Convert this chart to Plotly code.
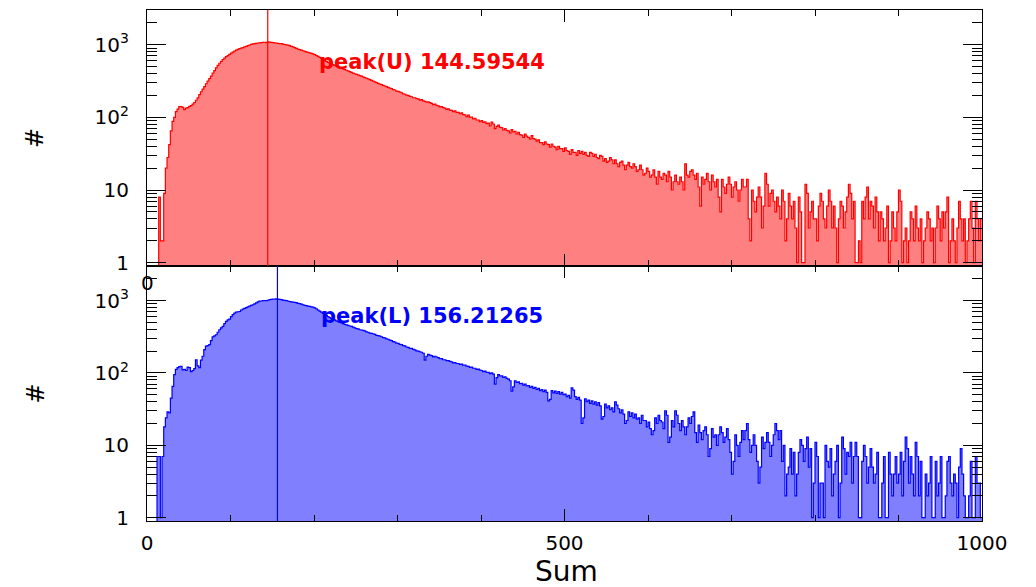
import numpy as np
import plotly.graph_objects as go

# ---------------- data ----------------
BIN_WIDTH = 2          # each value below covers 2 units of "Sum"
X_MIN, X_MAX = 0, 1000

# upper histogram (U): counts per bin, bins start at 0, 2, 4, ... (20 bins per row = 40 units)
U_COUNTS = [
    0, 0, 0, 0, 0, 0, 0, 8, 2, 2, 9, 20, 28, 42, 65, 88, 100, 120, 130, 140,
    141, 137, 128, 134, 136, 142, 145, 152, 160, 172, 185, 205, 225, 245, 265, 290, 315, 340, 370, 405,
    440, 480, 520, 555, 590, 625, 655, 685, 705, 735, 765, 790, 815, 840, 860, 880, 895, 910, 930, 950,
    970, 990, 1010, 1025, 1035, 1045, 1055, 1060, 1065, 1075, 1080, 1070, 1090, 1085, 1075, 1065, 1060, 1055, 1045, 1035,
    1035, 1020, 1005, 995, 985, 970, 950, 930, 910, 890, 870, 855, 840, 825, 810, 795, 785, 770, 760, 745,
    730, 710, 690, 670, 650, 630, 610, 590, 572, 558, 545, 532, 520, 508, 495, 485, 475, 463, 455, 445,
    435, 425, 415, 405, 398, 390, 384, 375, 368, 360, 352, 345, 338, 330, 322, 316, 308, 300, 294, 286,
    282, 276, 270, 264, 258, 252, 248, 240, 238, 230, 228, 222, 218, 210, 208, 202, 200, 194, 192, 186,
    186, 181, 179, 173, 175, 169, 166, 162, 163, 159, 156, 150, 152, 146, 144, 139, 140, 136, 134, 129,
    131, 126, 125, 120, 123, 117, 117, 112, 115, 109, 108, 102, 107, 101, 101, 95, 97, 92, 92, 87,
    90, 85, 87, 82, 83, 76, 86, 81, 70, 75, 78, 73, 72, 67, 70, 66, 65, 61, 68, 63,
    64, 59, 62, 58, 57, 53, 59, 55, 53, 50, 56, 51, 50, 47, 49, 45, 45, 42, 46, 43,
    42, 39, 43, 40, 39, 36, 40, 37, 37, 34, 38, 35, 34, 31, 36, 33, 33, 30, 35, 32,
    34, 31, 33, 30, 29, 33, 32, 29, 31, 28, 27, 30, 29, 25, 27, 24, 25, 28, 26, 23,
    26, 23, 21, 24, 25, 22, 19, 22, 24, 21, 20, 23, 21, 18, 19, 22, 19, 16, 17, 20,
    18, 15, 16, 19, 15, 12, 18, 15, 14, 17, 16, 13, 18, 15, 10, 13, 16, 13, 12, 15,
    13, 10, 23, 16, 15, 18, 19, 16, 14, 17, 11, 6, 15, 12, 14, 17, 13, 10, 16, 13,
    11, 14, 8, 5, 14, 11, 9, 12, 15, 12, 8, 11, 13, 10, 7, 10, 14, 11, 11, 14,
    4, 2, 10, 7, 5, 8, 11, 8, 3, 6, 17, 12, 6, 9, 10, 7, 5, 8, 6, 4,
    10, 7, 2, 4, 9, 6, 4, 7, 3, 1, 8, 5, 1, 1, 12, 9, 3, 5, 7, 4,
    4, 2, 6, 9, 7, 4, 3, 6, 10, 7, 3, 6, 3, 1, 4, 7, 6, 3, 5, 8,
    12, 9, 4, 7, 1, 1, 2, 1, 7, 4, 8, 11, 4, 7, 6, 3, 8, 5, 2, 5,
    4, 2, 3, 6, 1, 2, 5, 3, 2, 5, 10, 7, 1, 2, 3, 1, 2, 5, 4, 2,
    6, 3, 2, 4, 1, 2, 3, 5, 4, 2, 3, 1, 3, 6, 4, 2, 5, 3, 5, 8,
    1, 2, 4, 2, 1, 3, 7, 4, 2, 4, 1, 2, 4, 7, 3, 1, 7, 4, 2, 4,
]

# lower histogram (L)
L_COUNTS = [
    0, 0, 0, 0, 0, 0, 7, 7, 1, 7, 18, 24, 29, 28, 45, 65, 95, 112, 118, 122,
    123, 110, 112, 108, 120, 118, 104, 108, 115, 152, 125, 118, 150, 170, 210, 234, 238, 246, 280, 314,
    325, 337, 365, 395, 420, 440, 480, 515, 540, 555, 600, 637, 670, 690, 700, 706, 740, 760, 780, 800,
    815, 835, 860, 875, 900, 930, 960, 980, 985, 995, 1000, 1000, 1010, 1030, 1035, 1050, 1045, 1055, 1045, 1035,
    1030, 1015, 1005, 995, 985, 970, 960, 950, 945, 935, 915, 905, 890, 875, 860, 850, 840, 830, 820, 810,
    790, 770, 740, 715, 690, 665, 645, 620, 600, 580, 565, 555, 540, 525, 510, 500, 490, 480, 470, 460,
    455, 445, 440, 430, 420, 410, 405, 395, 392, 388, 380, 370, 365, 355, 352, 348, 340, 330, 328, 322,
    316, 308, 304, 296, 292, 284, 280, 270, 266, 258, 256, 248, 246, 238, 236, 228, 226, 218, 218, 212,
    208, 202, 200, 196, 193, 187, 150, 170, 180, 176, 173, 167, 170, 166, 163, 157, 158, 152, 152, 148,
    148, 144, 142, 138, 139, 135, 135, 131, 132, 128, 128, 124, 123, 119, 120, 116, 116, 112, 113, 109,
    108, 104, 106, 102, 102, 98, 100, 96, 70, 86, 95, 91, 91, 87, 88, 84, 82, 78, 56, 64,
    78, 74, 75, 71, 72, 68, 70, 66, 67, 63, 65, 61, 63, 59, 61, 57, 59, 55, 58, 54,
    41, 43, 57, 53, 56, 52, 55, 51, 54, 50, 51, 47, 49, 45, 62, 58, 47, 43, 46, 42,
    20, 24, 44, 40, 42, 38, 41, 37, 40, 36, 39, 35, 23, 25, 37, 33, 35, 31, 33, 29,
    40, 36, 32, 28, 31, 27, 20, 22, 29, 25, 28, 24, 27, 23, 24, 20, 26, 22, 22, 18,
    21, 17, 14, 16, 24, 20, 26, 22, 21, 17, 30, 26, 11, 13, 22, 18, 30, 26, 20, 16,
    22, 18, 14, 18, 24, 20, 25, 29, 15, 11, 19, 15, 12, 16, 18, 14, 7, 9, 17, 13,
    14, 10, 14, 18, 15, 11, 13, 17, 12, 8, 4, 6, 14, 10, 7, 11, 16, 12, 16, 20,
    12, 8, 10, 14, 10, 6, 3, 5, 13, 9, 11, 15, 11, 7, 10, 14, 20, 16, 12, 16,
    6, 10, 2, 4, 5, 9, 4, 8, 2, 4, 8, 12, 10, 6, 9, 13, 5, 9, 1, 3,
    11, 7, 1, 3, 3, 1, 10, 6, 5, 9, 2, 4, 6, 10, 1, 3, 13, 9, 4, 8,
    7, 11, 3, 7, 11, 7, 1, 1, 6, 10, 7, 3, 5, 9, 5, 3, 4, 8, 1, 1,
    3, 7, 1, 1, 8, 4, 2, 4, 7, 3, 4, 8, 2, 6, 13, 9, 3, 7, 4, 2,
    11, 7, 2, 6, 1, 1, 4, 2, 3, 7, 1, 1, 6, 2, 3, 7, 1, 1, 2, 6,
    7, 3, 2, 4, 3, 1, 5, 9, 4, 2, 1, 1, 2, 6, 1, 1, 7, 3, 3, 1,
]

PEAK_U = 144.59544
PEAK_L = 156.21265

X_TICKS = [0, 500, 1000]
X_TICKTEXT = ["0", "500", "1000"]
Y_TICKS = [1, 10, 100, 1000]
Y_TICKTEXT = ["1", "10", "10<sup>2</sup>", "10<sup>3</sup>"]
X_TITLE = "Sum"
Y_TITLE = "#"

# ---------------- figure ----------------
FONT = "DejaVu Sans"
FLOOR = 0.5  # empty bins are drawn below the visible log range
edges = X_MIN + np.arange(len(U_COUNTS) + 1) * BIN_WIDTH


def step_y(counts):
    a = np.asarray(counts, dtype=float)
    a = np.where(a > 0, a, FLOOR)
    return np.append(a, a[-1])


fig = go.Figure()
for counts, line_c, fill_c, xa, ya in [
    (U_COUNTS, "#FF0000", "#FF8080", "x", "y"),
    (L_COUNTS, "#0000FF", "#8080FF", "x2", "y2"),
]:
    fig.add_trace(go.Scatter(x=[edges[0], edges[-1]], y=[FLOOR, FLOOR], mode="lines",
                             line=dict(width=0), hoverinfo="skip", showlegend=False,
                             xaxis=xa, yaxis=ya))
    fig.add_trace(go.Scatter(x=edges, y=step_y(counts), mode="lines",
                             line=dict(color=line_c, width=1.2, shape="hv"),
                             fill="tonexty", fillcolor=fill_c, showlegend=False,
                             xaxis=xa, yaxis=ya))

minor_y = [m * 10 ** d for d in range(0, 4) for m in range(2, 10) if m * 10 ** d < 3000]
YR = [np.log10(0.9), np.log10(3000)]
SPLIT = 0.499

common = dict(showline=True, linecolor="black", linewidth=1.2, mirror="ticks",
              ticks="inside", tickcolor="black", showgrid=False, zeroline=False)
xcommon = dict(common, range=[X_MIN, X_MAX], tickvals=X_TICKS, ticktext=X_TICKTEXT,
               ticklen=12, tickwidth=1.2,
               minor=dict(dtick=100, tick0=0, ticks="inside", ticklen=6,
                          tickcolor="black", tickwidth=1))
ycommon = dict(common, type="log", range=YR, tickvals=Y_TICKS, ticktext=Y_TICKTEXT,
               ticklen=19, tickwidth=1.2, ticklabelstandoff=13,
               tickfont=dict(family=FONT, size=20, color="black"),
               minor=dict(tickvals=minor_y, ticks="inside", ticklen=10,
                          tickcolor="black", tickwidth=1))

# the page adds an 8 px body margin, so the figure is 8 px smaller and margins shifted
fig.update_layout(
    width=1028, height=579,
    margin=dict(l=139, r=54, t=2, b=66),
    paper_bgcolor="white", plot_bgcolor="white",
    xaxis=dict(xcommon, domain=[0, 1], anchor="y", showticklabels=False),
    yaxis=dict(ycommon, domain=[SPLIT, 1], anchor="x"),
    xaxis2=dict(xcommon, domain=[0, 1], anchor="y2", showticklabels=True,
                ticklabelstandoff=4,
                tickfont=dict(family=FONT, size=20, color="black")),
    yaxis2=dict(ycommon, domain=[0, SPLIT], anchor="x2"),
    showlegend=False,
)

fig.add_shape(type="line", xref="x", yref="y domain", x0=PEAK_U, x1=PEAK_U, y0=0, y1=1,
              line=dict(color="#FF0000", width=1.2))
fig.add_shape(type="line", xref="x2", yref="y2 domain", x0=PEAK_L, x1=PEAK_L, y0=0, y1=1,
              line=dict(color="#0000FF", width=1.2))

ann = []
ann.append(dict(text=f"peak(U) {PEAK_U:.5f}", xref="x", yref="y", x=203, y=np.log10(585),
                xanchor="left", yanchor="middle", showarrow=False,
                font=dict(family=FONT, size=21, color="#FF0000", weight="bold")))
ann.append(dict(text=f"peak(L) {PEAK_L:.5f}", xref="x2", yref="y2", x=206, y=np.log10(612),
                xanchor="left", yanchor="middle", showarrow=False,
                font=dict(family=FONT, size=21, color="#0000FF", weight="bold")))
for yr in ["y domain", "y2 domain"]:
    ann.append(dict(text=Y_TITLE, xref="paper", yref=yr, x=-0.134, y=0.5, textangle=-90,
                    xanchor="center", yanchor="middle", showarrow=False,
                    font=dict(family=FONT, size=24, color="black")))
ann.append(dict(text=X_TITLE, xref="x2 domain", yref="paper", x=0.502, y=-0.098,
                xanchor="center", yanchor="middle", showarrow=False,
                font=dict(family=FONT, size=28, color="black")))
# the upper panel's "0" tick label that peeks out below it
ann.append(dict(text=X_TICKTEXT[0], xref="x", yref="paper", x=X_TICKS[0], y=0.4648,
                xanchor="center", yanchor="middle", showarrow=False,
                font=dict(family=FONT, size=20, color="black")))
fig.update_layout(annotations=ann)

fig.write_html("out.html")
